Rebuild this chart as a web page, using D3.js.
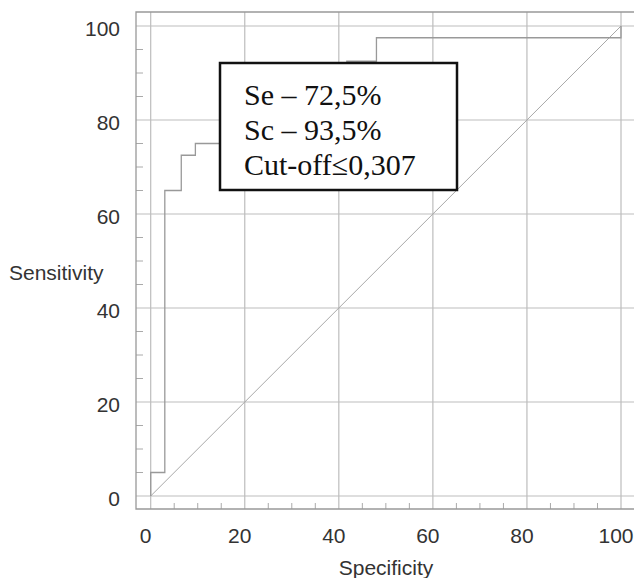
<!DOCTYPE html>
<html><head><meta charset="utf-8">
<script src="https://cdn.jsdelivr.net/npm/d3@7"></script>
<style>body{margin:0;background:#fff}svg{display:block}</style>
</head><body>
<script>
// ROC step points (x = specificity axis, y = sensitivity)
const rocX = [0, 3, 6.5, 9.5, 41.7, 48, 100, 100];
const rocY = [0, 5, 65, 72.5, 75, 92.5, 97.5, 100];
const majorTicks = [0, 20, 40, 60, 80, 100];
const minorTicks = [5,10,15,25,30,35,45,50,55,65,70,75,85,90,95];
const boxLines = ["Se – 72,5%", "Sc – 93,5%", "Cut-off≤0,307"];
const xLabel = "Specificity", yLabel = "Sensitivity";

(function () {
const W = 634, H = 578;
const svg = d3.select("body").append("svg").attr("width", W).attr("height", H);
const x = d3.scaleLinear().domain([0, 100]).range([150.7, 621]);
const y = d3.scaleLinear().domain([0, 100]).range([496, 26]);
const fL = 136, fR = 640, fT = 12, fB = 509;

const g = svg.append("g");
// grid
g.selectAll(".gv").data(majorTicks).join("line")
  .attr("x1", d => x(d)).attr("x2", d => x(d)).attr("y1", fT).attr("y2", fB)
  .attr("stroke", "#bdbdbd").attr("stroke-width", 1.2);
g.selectAll(".gh").data(majorTicks).join("line")
  .attr("y1", d => y(d)).attr("y2", d => y(d)).attr("x1", fL).attr("x2", fR)
  .attr("stroke", "#bdbdbd").attr("stroke-width", 1.2);
// minor ticks
g.selectAll(".mx").data(minorTicks).join("line")
  .attr("x1", d => x(d)).attr("x2", d => x(d)).attr("y1", fB - 6).attr("y2", fB)
  .attr("stroke", "#aaa");
g.selectAll(".my").data(minorTicks).join("line")
  .attr("y1", d => y(d)).attr("y2", d => y(d)).attr("x1", fL).attr("x2", fL + 7)
  .attr("stroke", "#aaa");
// frame
g.append("path").attr("d", `M${fR},${fT}H${fL}V${fB}H${fR}`)
  .attr("fill", "none").attr("stroke", "#999").attr("stroke-width", 1.3);

// diagonal
g.append("line").attr("x1", x(0)).attr("y1", y(0)).attr("x2", x(100)).attr("y2", y(100))
  .attr("stroke", "#a8a8a8").attr("stroke-width", 1);

// ROC
const pts = rocX.map((v, i) => [v, rocY[i]]);
g.append("path").datum(pts)
  .attr("d", d3.line().x(d => x(d[0])).y(d => y(d[1])).curve(d3.curveStepBefore))
  .attr("fill", "none").attr("stroke", "#999").attr("stroke-width", 1.3);

// tick labels
const font = "Liberation Sans, Arial, sans-serif";
g.selectAll(".xl").data(majorTicks).join("text")
  .attr("x", d => x(d) - 5).attr("y", 543).attr("text-anchor", "middle")
  .attr("font-family", font).attr("font-size", 21).attr("fill", "#333").text(d => d);
g.selectAll(".yl").data(majorTicks).join("text")
  .attr("x", 120).attr("y", d => y(d) + 10).attr("text-anchor", "end")
  .attr("font-family", font).attr("font-size", 21).attr("fill", "#333").text(d => d);
svg.append("text").attr("x", 386).attr("y", 575).attr("text-anchor", "middle")
  .attr("font-family", font).attr("font-size", 21).attr("fill", "#333").text(xLabel);
svg.append("text").attr("x", 9).attr("y", 280)
  .attr("font-family", font).attr("font-size", 21).attr("fill", "#333").text(yLabel);

// annotation box
const bx = svg.append("g");
bx.append("rect").attr("x", 220).attr("y", 63).attr("width", 237).attr("height", 127)
  .attr("fill", "#fff").attr("stroke", "#111").attr("stroke-width", 2.5);
bx.selectAll("text").data(boxLines).join("text")
  .attr("x", 244).attr("y", (d, i) => 105 + i * 35)
  .attr("font-family", "Liberation Serif, Times New Roman, serif").attr("font-size", 30)
  .attr("fill", "#111").text(d => d);
})();
</script>
</body></html>
